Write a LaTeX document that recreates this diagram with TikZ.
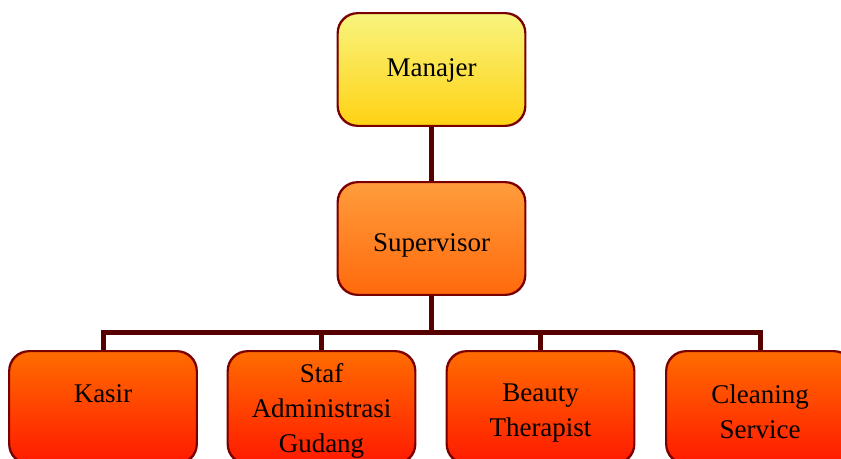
\documentclass[tikz,border=0pt]{standalone}
\usepackage{fontspec}
\setmainfont{Liberation Serif}
\definecolor{edge}{HTML}{7A0000}
\definecolor{conn}{HTML}{560000}
\definecolor{ytop}{HTML}{F8F47E}
\definecolor{ybot}{HTML}{FFD214}
\definecolor{otop}{HTML}{FF9C3C}
\definecolor{obot}{HTML}{FF6A0C}
\definecolor{rtop}{HTML}{FF6C00}
\definecolor{rbot}{HTML}{FF1A00}
\begin{document}
\begin{tikzpicture}[x=1pt,y=-1pt,
  box/.style={draw=edge, line width=1.4pt, rounded corners=20pt, minimum width=187pt, minimum height=112pt, inner sep=0pt},
  ybox/.style={box, top color=ytop, bottom color=ybot},
  obox/.style={box, top color=otop, bottom color=obot},
  rbox/.style={box, top color=rtop, bottom color=rbot},
  lbl/.style={font=\fontsize{27}{35}\selectfont, align=center, text=black, inner sep=0pt},
  link/.style={draw=conn, line width=5pt}]
\useasboundingbox (0,0) rectangle (841,458);
\clip (0,0) rectangle (841,458);
% boxes
\node[ybox] (man) at (431.5,69.5) {};
\node[obox] (sup) at (431.5,238.5) {};
\node[rbox] (kas) at (103,407.5) {};
\node[rbox] (staf) at (321.5,407.5) {};
\node[rbox] (beau) at (540.5,407.5) {};
\node[rbox] (clean) at (760,407.5) {};
% connectors
\coordinate (bus) at (431.5,332);
\draw[link] (man.south) -- (sup.north);
\draw[link] (sup.south) -- (bus);
\draw[link] (kas.north) |- (bus) -| (clean.north);
\draw[link] (staf.north) -- (staf.north |- bus);
\draw[link] (beau.north) -- (beau.north |- bus);
% redraw borders over connector ends
\foreach \n in {man,sup,kas,staf,beau,clean}{
  \draw[draw=edge, line width=1.4pt, rounded corners=20pt] (\n.north west) rectangle (\n.south east);
}
% labels
\node[lbl] (tman) at (431.5,70) {Manajer};
\node[lbl] (tsup) at (431.5,245) {Supervisor};
\node[lbl] (tkas) at (103,394) {Kasir};
\node[lbl] (tstaf) at (321.5,411) {Staf\\Administrasi\\Gudang};
\node[lbl] (tbeau) at (540.5,413) {Beauty\\Therapist};
\node[lbl] (tclean) at (760,412) {Cleaning\\Service};
\end{tikzpicture}
\end{document}
